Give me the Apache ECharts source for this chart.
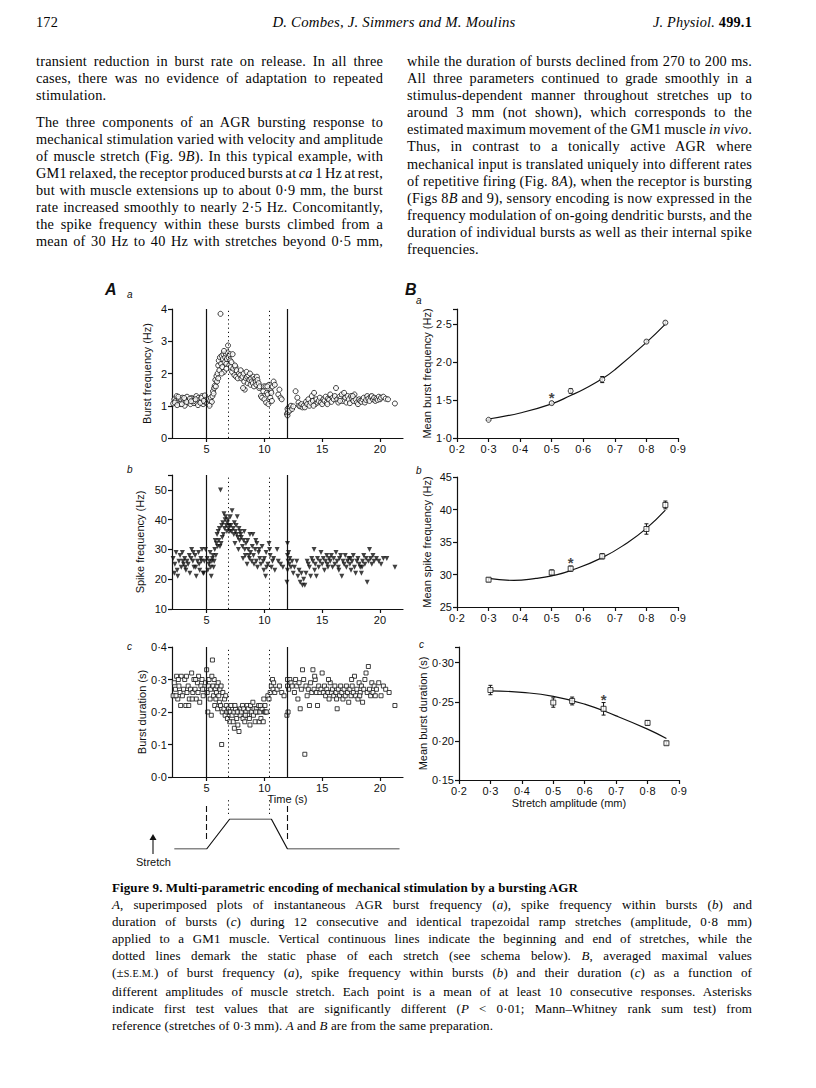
<!DOCTYPE html>
<html><head><meta charset="utf-8">
<script src="https://cdn.jsdelivr.net/npm/echarts@6/dist/echarts.min.js"></script>
<style>
html,body{margin:0;padding:0;background:#fff;}
#page{position:relative;width:816px;height:1088px;overflow:hidden;background:#fff;}
#chart{position:absolute;left:0;top:0;width:816px;height:1088px;}
.blk{position:absolute;font-family:"Liberation Serif","Times New Roman",serif;color:#050505;}
.blk div{white-space:nowrap;}
.body{font-size:14.3px;line-height:17.1px;letter-spacing:0.2px;}
.cap{font-size:13px;line-height:17.1px;letter-spacing:0.1px;}
.sc{font-size:0.78em;letter-spacing:0.03em;}
</style>
</head><body>
<div id="page">
<div id="chart"></div>

<div class="blk body" style="left:36px;top:14px;width:716px;">
  <div style="position:absolute;left:0;top:0;">172</div>
  <div style="position:absolute;left:0;top:0;width:716px;text-align:center;font-style:italic;font-size:14.8px;">D. Combes, J. Simmers and M. Moulins</div>
  <div style="position:absolute;right:0;top:0;"><i>J. Physiol.</i> <b>499.1</b></div>
</div>

<div class="blk body col" style="left:36px;top:53px;width:347px;">
  <div class="j">transient reduction in burst rate on release. In all three</div>
  <div class="j">cases, there was no evidence of adaptation to repeated</div>
  <div>stimulation.</div>
</div>
<div class="blk body col" style="left:36px;top:113.5px;width:347px;">
  <div class="j">The three components of an AGR bursting response to</div>
  <div class="j">mechanical stimulation varied with velocity and amplitude</div>
  <div class="j">of muscle stretch (Fig. 9<i>B</i>). In this typical example, with</div>
  <div class="j">GM1 relaxed, the receptor produced bursts at <i>ca</i> 1 Hz at rest,</div>
  <div class="j">but with muscle extensions up to about 0·9 mm, the burst</div>
  <div class="j">rate increased smoothly to nearly 2·5 Hz. Concomitantly,</div>
  <div class="j">the spike frequency within these bursts climbed from a</div>
  <div class="j">mean of 30 Hz to 40 Hz with stretches beyond 0·5 mm,</div>
</div>
<div class="blk body col" style="left:407px;top:53px;width:345px;">
  <div class="j">while the duration of bursts declined from 270 to 200 ms.</div>
  <div class="j">All three parameters continued to grade smoothly in a</div>
  <div class="j">stimulus-dependent manner throughout stretches up to</div>
  <div class="j">around 3 mm (not shown), which corresponds to the</div>
  <div class="j">estimated maximum movement of the GM1 muscle <i>in vivo</i>.</div>
  <div class="j">Thus, in contrast to a tonically active AGR where</div>
  <div class="j">mechanical input is translated uniquely into different rates</div>
  <div class="j">of repetitive firing (Fig. 8<i>A</i>), when the receptor is bursting</div>
  <div class="j">(Figs 8<i>B</i> and 9), sensory encoding is now expressed in the</div>
  <div class="j">frequency modulation of on-going dendritic bursts, and the</div>
  <div class="j">duration of individual bursts as well as their internal spike</div>
  <div>frequencies.</div>
</div>

<div class="blk cap col" style="left:112px;top:879px;width:640px;">
  <div style="font-weight:bold;">Figure 9. Multi-parametric encoding of mechanical stimulation by a bursting AGR</div>
  <div class="j"><i>A</i>, superimposed plots of instantaneous AGR burst frequency (<i>a</i>), spike frequency within bursts (<i>b</i>) and</div>
  <div class="j">duration of bursts (<i>c</i>) during 12 consecutive and identical trapezoidal ramp stretches (amplitude, 0·8 mm)</div>
  <div class="j">applied to a GM1 muscle. Vertical continuous lines indicate the beginning and end of stretches, while the</div>
  <div class="j">dotted lines demark the static phase of each stretch (see schema below). <i>B</i>, averaged maximal values</div>
  <div class="j">(±<span class="sc">S.E.M.</span>) of burst frequency (<i>a</i>), spike frequency within bursts (<i>b</i>) and their duration (<i>c</i>) as a function of</div>
  <div class="j">different amplitudes of muscle stretch. Each point is a mean of at least 10 consecutive responses. Asterisks</div>
  <div class="j">indicate first test values that are significantly different (<i>P</i> &lt; 0·01; Mann–Whitney rank sum test) from</div>
  <div>reference (stretches of 0·3 mm). <i>A</i> and <i>B</i> are from the same preparation.</div>
</div>
</div>

<script>
// ---------------- DATA ----------------
// Panel A: event times (s)
const stretchOnOff = [5, 12];          // continuous lines
const staticPhase = [6.85, 10.45];     // dotted lines
// Stretch schema (time s, relative amplitude)
const schemaTime = [2.2, 5, 7, 10.6, 12, 21.7];
const schemaAmp  = [0, 0, 1, 1, 0, 0];
const timeTicks = [5, 10, 15, 20];

// A a: burst frequency (Hz) vs time (s)
const burstFreq = [
[2.1,1.07],[2.2,1.2],[2.3,1.15],[2.4,1.3],[2.5,1.1],[2.6,1.22],[2.7,1.05],[2.8,1.18],[2.9,1.25],[3.0,1.12],[3.1,1.0],[3.15,1.2],[3.3,1.28],[3.4,1.1],[3.5,1.16],[3.6,1.05],[3.7,1.24],[3.8,1.2],[3.9,1.08],[4.0,1.15],[4.1,1.3],[4.15,1.1],[4.3,1.25],[4.4,1.18],[4.5,1.12],[4.6,1.3],[4.7,1.05],[4.8,1.2],[4.9,1.1],[2.25,1.1],[2.55,1.28],[2.85,1.05],[3.25,1.12],[3.55,1.22],[3.85,1.14],[4.25,1.02],[4.55,1.24],[4.85,1.32],[2.45,1.02],[3.05,1.24],[3.65,1.14],[4.05,1.2],[4.45,1.09],[4.75,1.15],
[5.05,1.08],[5.15,1.2],[5.2,1.05],[5.3,1.15],[5.35,1.25],[5.45,1.12],[5.5,1.3],[5.25,1.0],
[5.55,1.45],[5.6,1.38],[5.65,1.55],[5.7,1.62],[5.75,1.8],[5.8,1.6],[5.85,1.92],[5.9,1.75],[5.95,2.0],[6.0,1.85],
[6.0,2.25],[6.05,2.4],[6.1,2.1],[6.15,2.5],[6.2,3.85],[6.25,2.3],[6.3,2.55],[6.35,2.2],[6.4,2.45],[6.45,2.6],[6.5,2.05],[6.55,2.35],[6.6,2.5],[6.65,2.62],[6.7,2.3],[6.75,2.45],[6.8,2.65],[6.85,2.87],[6.9,2.5],[6.95,2.25],[7.0,2.6],[6.3,2.0],[6.5,2.7],[6.7,2.15],
[7.05,2.4],[7.1,2.2],[7.15,2.35],[7.2,2.05],[7.3,2.15],[7.4,1.95],[7.5,2.2],[7.55,1.9],[7.6,2.1],[7.7,1.85],[7.8,2.0],[7.9,1.95],[7.95,2.1],[7.25,2.6],[7.45,2.25],
[8.0,1.85],[8.1,1.9],[8.2,2.0],[8.25,1.75],[8.3,1.5],[8.4,1.85],[8.5,1.9],[8.55,1.7],[8.6,1.95],[8.7,1.8],[8.8,1.65],[8.85,1.85],[8.9,1.75],[8.15,1.55],[8.45,2.05],[8.75,2.0],
[9.0,1.7],[9.05,1.9],[9.1,1.6],[9.2,1.85],[9.25,1.75],[9.3,1.65],[9.35,1.9],[9.4,1.8],[9.5,1.7],[9.55,1.55],[9.6,1.6],[9.7,1.3],[9.8,1.25],[9.9,1.45],[9.95,1.6],
[10.0,1.2],[10.1,1.6],[10.15,1.1],[10.2,1.4],[10.3,1.35],[10.35,1.05],[10.4,1.65],[10.5,1.25],[10.55,1.45],[10.6,1.4],[10.7,1.6],[10.8,1.75],[10.9,1.65],[10.25,1.6],[10.65,1.15],
[11.2,1.35],[11.3,1.5],[11.4,1.25],[11.5,1.2],
[11.95,0.75],[12.0,0.7],[12.05,0.8],[12.0,0.9],[12.1,0.95],[12.2,0.85],[12.3,1.0],[12.4,0.9],[12.5,0.98],
[12.7,1.45],[12.85,1.25],[12.95,1.1],[13.0,1.0],[13.1,0.98],[13.2,1.05],[13.3,0.95],[13.4,1.0],[13.5,0.95],[13.6,1.12],[13.7,1.05],[13.8,1.2],[13.9,1.0],[14.0,1.1],[14.1,1.3],[14.2,1.15],[14.3,1.4],[14.4,1.05],[14.5,1.2],[14.6,1.1],[14.7,1.15],[14.8,1.25],[14.9,1.1],[15.0,1.05],[15.1,1.2],[15.2,1.15],[15.3,1.28],[15.4,1.1],[15.5,1.22],[15.6,1.18],[15.7,1.35],[15.8,1.12],[15.9,1.25],[16.0,1.2],[16.1,1.3],[16.2,1.55],[16.3,1.2],[16.4,1.1],[16.5,1.28],[16.6,1.22],[16.7,1.35],[16.8,1.15],[16.9,1.4],[17.0,1.25],[17.1,1.1],[17.2,1.3],[17.3,1.2],[17.4,1.08],[17.5,1.3],[17.6,1.22],[17.7,1.15],[17.8,1.35],[17.9,1.2],[18.0,1.1],[18.1,1.05],[18.2,1.2],[18.3,1.15],[18.4,1.12],[18.5,1.2],[18.6,1.25],[18.7,1.1],[18.8,1.18],[18.9,1.3],[19.0,1.22],[19.1,1.15],[19.2,1.28],[19.3,1.3],[19.4,1.2],[19.5,1.25],[19.6,1.15],[19.7,1.22],[19.8,1.18],[19.9,1.28],[20.0,1.2],[20.1,1.25],[20.3,1.28],[20.5,1.22],[20.7,1.2],[21.3,1.07],[14.25,1.0],[15.45,1.05],[16.55,1.15],[17.65,1.3]
];

// A b: spike frequency (Hz) vs time (s)
const spikeFreq = [
[2.1,27],[2.2,22],[2.25,25],[2.35,29],[2.5,21],[2.6,26],[2.7,28],[2.8,24],[2.9,29],[3.0,25],[3.1,27],[3.2,23],[3.3,26],[3.4,25],[3.5,28],[3.55,22],[3.7,30],[3.8,26],[3.9,24],[4.0,28],[4.1,21],[4.2,26],[4.3,29],[4.4,23],[4.5,27],[4.6,30],[4.7,22],[4.8,26],[4.9,30],[2.45,23],[3.15,24],[3.85,29],[4.35,25],[4.75,22],[2.95,26],[3.65,27],[4.05,24],[4.55,26],
[5.05,27],[5.1,23],[5.2,25],[5.3,29],[5.35,24],[5.4,21],[5.45,26],[5.5,27],[5.55,28],[5.6,24],[5.7,30],[5.75,33],[5.8,28],[5.85,32],[5.9,35],[5.95,31],[5.25,26],[5.65,26],
[6.0,36],[6.05,33],[6.1,37],[6.15,31],[6.2,50],[6.3,38],[6.35,34],[6.4,39],[6.5,42],[6.55,37],[6.6,40],[6.65,41],[6.7,38],[6.75,36],[6.8,39],[6.85,40],[6.9,37],[6.95,38],[7.0,36],[6.45,35],[6.25,32],
[7.05,41],[7.1,38],[7.15,36],[7.2,43],[7.3,37],[7.35,35],[7.4,39],[7.5,36],[7.55,38],[7.6,35],[7.65,41],[7.7,34],[7.8,37],[7.85,33],[7.9,36],[7.95,35],[7.45,32],[7.75,30],
[8.0,34],[8.1,31],[8.15,27],[8.2,33],[8.3,30],[8.35,28],[8.4,32],[8.5,25],[8.55,33],[8.6,30],[8.7,27],[8.75,35],[8.8,29],[8.9,26],[8.95,31],[8.25,36],[8.65,28],
[9.0,35],[9.05,28],[9.1,25],[9.2,30],[9.3,26],[9.35,32],[9.4,24],[9.5,29],[9.6,27],[9.7,25],[9.8,31],[9.9,26],[9.95,23],[9.55,30],[9.25,33],
[10.0,27],[10.1,21],[10.15,29],[10.2,24],[10.3,25],[10.4,32],[10.5,28],[10.6,24],[10.7,26],[10.8,27],[10.9,23],[10.45,30],
[11.1,30],[11.2,26],[11.4,25],[11.6,24],
[11.95,19],[12.0,32],[12.0,28],[12.05,26],[12.0,23],[12.1,29],[12.15,25],[12.2,27],[12.3,24],[12.4,26],[12.5,22],[12.6,24],
[12.8,26],[12.9,21],[13.0,23],[13.1,19],[13.2,22],[13.3,18],[13.4,20],[13.5,18],[13.6,22],[13.7,26],[13.8,25],[13.9,24],[14.0,21],[14.1,27],[14.2,26],[14.3,30],[14.4,25],[14.5,21],[14.6,27],[14.7,24],[14.8,26],[14.9,29],[15.0,25],[15.1,27],[15.2,23],[15.3,26],[15.4,28],[15.5,24],[15.6,27],[15.7,26],[15.8,28],[15.9,24],[16.0,27],[16.1,25],[16.2,29],[16.3,26],[16.4,24],[16.5,27],[16.6,28],[16.7,21],[16.8,26],[16.9,25],[17.0,28],[17.1,24],[17.2,26],[17.3,27],[17.4,25],[17.5,23],[17.6,26],[17.7,28],[17.8,24],[17.9,22],[18.0,26],[18.1,27],[18.2,25],[18.3,24],[18.4,22],[18.5,26],[18.6,28],[18.7,25],[18.8,27],[18.9,19],[19.0,26],[19.1,30],[19.2,27],[19.3,25],[19.4,28],[19.5,26],[19.7,27],[19.9,26],[20.1,25],[20.3,27],[20.6,27],[21.3,24],[14.35,23],[15.45,25],[16.45,23],[17.45,27],[18.45,24]
];

// A c: burst duration (s) vs time (s)
const burstDur = [
[2.1,0.25],[2.2,0.29],[2.3,0.27],[2.4,0.31],[2.5,0.24],[2.6,0.28],[2.7,0.26],[2.8,0.31],[2.9,0.25],[3.0,0.27],[3.1,0.3],[3.2,0.22],[3.3,0.26],[3.4,0.28],[3.5,0.24],[3.6,0.27],[3.7,0.32],[3.8,0.26],[3.9,0.3],[4.0,0.27],[4.1,0.24],[4.2,0.29],[4.3,0.31],[4.4,0.23],[4.5,0.28],[4.6,0.3],[4.7,0.25],[4.8,0.27],[4.9,0.29],[2.35,0.25],[2.75,0.22],[3.25,0.31],[3.75,0.24],[4.25,0.26],[4.65,0.27],[2.55,0.3],[3.45,0.22],[4.05,0.3],
[5.0,0.33],[5.05,0.26],[5.1,0.2],[5.15,0.28],[5.2,0.3],[5.3,0.24],[5.35,0.27],[5.4,0.19],[5.5,0.36],[5.55,0.28],[5.6,0.25],[5.65,0.3],[5.7,0.22],[5.75,0.27],[5.8,0.24],[5.9,0.28],[5.95,0.21],[5.45,0.31],[5.85,0.26],
[6.0,0.29],[6.05,0.25],[6.1,0.23],[6.15,0.27],[6.2,0.22],[6.3,0.1],[6.35,0.2],[6.4,0.26],[6.5,0.21],[6.55,0.24],[6.6,0.19],[6.7,0.22],[6.75,0.2],[6.8,0.18],[6.9,0.21],[6.95,0.2],[6.25,0.28],[6.65,0.25],
[7.0,0.17],[7.05,0.2],[7.1,0.22],[7.2,0.19],[7.3,0.17],[7.35,0.2],[7.4,0.15],[7.5,0.21],[7.6,0.18],[7.7,0.16],[7.75,0.2],[7.8,0.14],[7.9,0.19],[7.95,0.21],[7.45,0.22],[7.65,0.2],
[8.0,0.2],[8.1,0.22],[8.15,0.18],[8.2,0.21],[8.3,0.17],[8.4,0.2],[8.5,0.22],[8.55,0.19],[8.6,0.21],[8.7,0.18],[8.8,0.22],[8.9,0.2],[8.35,0.19],[8.75,0.16],
[9.0,0.23],[9.05,0.19],[9.1,0.21],[9.2,0.17],[9.3,0.21],[9.4,0.2],[9.5,0.22],[9.55,0.17],[9.6,0.2],[9.7,0.18],[9.8,0.21],[9.9,0.17],[9.95,0.24],[9.25,0.2],[9.65,0.22],
[10.0,0.2],[10.05,0.22],[10.1,0.2],[10.2,0.2],[10.3,0.25],[10.4,0.24],[10.5,0.26],[10.6,0.28],[10.7,0.3],[10.75,0.27],[10.8,0.29],[10.9,0.26],
[11.1,0.27],[11.3,0.28],[11.5,0.26],[11.7,0.25],
[11.95,0.19],[12.0,0.3],[12.0,0.28],[12.05,0.2],[12.1,0.27],[12.2,0.3],[12.3,0.29],[12.4,0.28],
[12.6,0.26],[12.7,0.3],[12.8,0.28],[12.9,0.24],[13.0,0.29],[13.1,0.21],[13.2,0.27],[13.3,0.33],[13.4,0.3],[13.5,0.07],[13.6,0.28],[13.7,0.25],[13.8,0.27],[13.9,0.22],[14.0,0.29],[14.1,0.26],[14.2,0.33],[14.3,0.27],[14.4,0.3],[14.5,0.26],[14.6,0.22],[14.7,0.28],[14.8,0.26],[14.9,0.27],[15.0,0.32],[15.1,0.26],[15.2,0.28],[15.3,0.25],[15.4,0.27],[15.5,0.26],[15.6,0.24],[15.7,0.29],[15.8,0.26],[15.9,0.27],[16.0,0.25],[16.1,0.28],[16.2,0.26],[16.3,0.21],[16.4,0.27],[16.5,0.25],[16.6,0.28],[16.7,0.26],[16.8,0.24],[16.9,0.27],[17.0,0.25],[17.1,0.28],[17.2,0.26],[17.3,0.23],[17.4,0.27],[17.5,0.25],[17.6,0.28],[17.7,0.26],[17.8,0.31],[17.9,0.25],[18.0,0.27],[18.1,0.24],[18.2,0.29],[18.3,0.26],[18.4,0.28],[18.5,0.23],[18.6,0.27],[18.7,0.3],[18.8,0.32],[18.9,0.26],[19.0,0.34],[19.1,0.27],[19.2,0.25],[19.3,0.29],[19.4,0.26],[19.5,0.28],[19.6,0.25],[19.7,0.27],[19.9,0.29],[20.1,0.25],[20.3,0.28],[20.5,0.27],[20.8,0.26],[21.3,0.22],[14.35,0.31],[15.55,0.3],[16.25,0.24],[17.55,0.3],[18.25,0.25]
];

// Panel B: stretch amplitudes (mm)
const amplitudes = [0.3, 0.5, 0.56, 0.66, 0.8, 0.86];
const meanBurstFreq = [1.24, 1.46, 1.62, 1.77, 2.27, 2.52];
const semBurstFreq  = [0.01, 0.02, 0.03, 0.04, 0.02, 0.02];
const meanSpikeFreq = [29.2, 30.3, 30.9, 32.8, 37.0, 40.7];
const semSpikeFreq  = [0.3, 0.4, 0.4, 0.4, 0.8, 0.6];
const meanBurstDur  = [0.265, 0.249, 0.251, 0.241, 0.223, 0.197];
const semBurstDur   = [0.006, 0.006, 0.005, 0.008, 0.003, 0.002];
// fitted curves
const fitBurstFreq = [[0.3,1.25],[0.4,1.33],[0.5,1.45],[0.56,1.56],[0.6,1.64],[0.66,1.78],[0.7,1.9],[0.8,2.26],[0.86,2.5]];
const fitSpikeFreq = [[0.3,29.4],[0.38,29.1],[0.45,29.4],[0.5,29.8],[0.56,30.6],[0.66,32.6],[0.74,34.9],[0.8,37.1],[0.86,39.9]];
const fitBurstDur  = [[0.3,0.264],[0.4,0.262],[0.5,0.257],[0.6,0.247],[0.7,0.232],[0.8,0.215],[0.86,0.203]];
// significance asterisks
const starBurstFreq = [[0.5, 1.53]];
const starSpikeFreq = [[0.56, 31.9]];
const starBurstDur  = [[0.66, 0.253]];
const ampTicks = [0.2,0.3,0.4,0.5,0.6,0.7,0.8,0.9];

// ---------------- CHART ----------------
const INK = '#111';
const SANS = 'Liberation Sans, Arial, sans-serif';
const dot = d => v => v.toFixed(d).replace('.', '\u00b7');

function baseAxis(extra) {
  const a = {
    type: 'value',
    axisLine: {show: true, onZero: false, lineStyle: {color: INK, width: 1.2}},
    axisTick: {show: true, inside: false, length: 4, lineStyle: {color: INK, width: 1.2}},
    axisLabel: {color: INK, fontFamily: SANS, fontSize: 11, margin: 5},
    splitLine: {show: false},
    nameTextStyle: {color: INK, fontFamily: SANS, fontSize: 11}
  };
  for (const k in extra) {
    if (typeof extra[k] === 'object' && !Array.isArray(extra[k]) && a[k]) a[k] = Object.assign({}, a[k], extra[k]);
    else a[k] = extra[k];
  }
  return a;
}

const grids = [
  {left: 172, top: 309, width: 231, height: 129},   // 0 A a
  {left: 172, top: 475, width: 231, height: 134},   // 1 A b
  {left: 172, top: 647, width: 231, height: 130},   // 2 A c
  {left: 172, top: 819, width: 231, height: 30},    // 3 schema
  {left: 172, top: 803, width: 231, height: 36},    // 4 dashed markers
  {left: 172, top: 800, width: 231, height: 14},    // 5 dotted markers
  {left: 457, top: 309, width: 221, height: 129},   // 6 B a
  {left: 457, top: 477, width: 221, height: 130},   // 7 B b
  {left: 459, top: 647, width: 220, height: 133}    // 8 B c
];

const timeAxis = (gi, extra) => baseAxis(Object.assign({
  gridIndex: gi, min: 2, max: 22,
  axisTick: {customValues: timeTicks},
  axisLabel: {customValues: timeTicks, formatter: v => String(v)}
}, extra || {}));
const hiddenAxis = (gi, min, max) => ({type: 'value', gridIndex: gi, min: min, max: max, show: false});
const ampAxis = (gi, extra) => baseAxis(Object.assign({
  gridIndex: gi, min: 0.2, max: 0.9,
  axisTick: {customValues: ampTicks},
  axisLabel: {customValues: ampTicks, formatter: dot(1)}
}, extra || {}));

const xAxes = [
  timeAxis(0), timeAxis(1),
  timeAxis(2, {name: 'Time (s)', nameLocation: 'middle', nameGap: 14}),
  {type: 'value', gridIndex: 3, min: 2, max: 22, show: false},
  {type: 'value', gridIndex: 4, min: 2, max: 22, show: false},
  {type: 'value', gridIndex: 5, min: 2, max: 22, show: false},
  ampAxis(6), ampAxis(7),
  ampAxis(8, {name: 'Stretch amplitude (mm)', nameLocation: 'middle', nameGap: 17})
];
const yName = (n, gap) => ({name: n, nameLocation: 'middle', nameRotate: 90, nameGap: gap});
const yAxes = [
  baseAxis(Object.assign({gridIndex: 0, min: 0, max: 4,
    axisTick: {customValues: [0,1,2,3,4]}, axisLabel: {customValues: [0,1,2,3,4], formatter: v => String(v)}},
    yName('Burst frequency (Hz)', 20))),
  baseAxis(Object.assign({gridIndex: 1, min: 10, max: 55,
    axisTick: {customValues: [10,20,30,40,50,55]}, axisLabel: {customValues: [10,20,30,40,50], formatter: v => String(v)}},
    yName('Spike frequency (Hz)', 27))),
  baseAxis(Object.assign({gridIndex: 2, min: 0, max: 0.4,
    axisTick: {customValues: [0,0.1,0.2,0.3,0.4]}, axisLabel: {customValues: [0,0.1,0.2,0.3,0.4], formatter: dot(1)}},
    yName('Burst duration (s)', 25))),
  hiddenAxis(3, 0, 1),
  hiddenAxis(4, 0, 1),
  hiddenAxis(5, 0, 1),
  baseAxis(Object.assign({gridIndex: 6, min: 1.0, max: 2.7,
    axisTick: {customValues: [1.0,1.5,2.0,2.5,2.7]}, axisLabel: {customValues: [1.0,1.5,2.0,2.5], formatter: dot(1)}},
    yName('Mean burst frequency (Hz)', 25))),
  baseAxis(Object.assign({gridIndex: 7, min: 25, max: 45,
    axisTick: {customValues: [25,30,35,40,45]}, axisLabel: {customValues: [25,30,35,40,45], formatter: v => String(v)}},
    yName('Mean spike frequency (Hz)', 25))),
  baseAxis(Object.assign({gridIndex: 8, min: 0.15, max: 0.32,
    axisTick: {customValues: [0.15,0.2,0.25,0.3,0.32]}, axisLabel: {customValues: [0.15,0.2,0.25,0.3], formatter: dot(2)}},
    yName('Mean burst duration (s)', 29)))
];

function eventLines(solidType) {
  return {
    silent: true, symbol: ['none', 'none'], label: {show: false}, animation: false,
    data: stretchOnOff.map(x => ({xAxis: x, lineStyle: {color: INK, width: 1.2, type: solidType}}))
      .concat(staticPhase.map(x => ({xAxis: x, lineStyle: {color: INK, width: 1, type: [1.2, 3]}})))
  };
}
function onlyLines(list, style) {
  return {silent: true, symbol: ['none','none'], label: {show: false}, animation: false,
    data: list.map(x => ({xAxis: x, lineStyle: style}))};
}

const hollow = {color: '#fff', borderColor: INK, borderWidth: 1};

function errItem(params, api) {
  const x = api.value(0), lo = api.value(1), hi = api.value(2);
  const p1 = api.coord([x, lo]), p2 = api.coord([x, hi]);
  const w = 2;
  const st = {stroke: INK, lineWidth: 1};
  return {type: 'group', children: [
    {type: 'line', shape: {x1: p1[0], y1: p1[1], x2: p2[0], y2: p2[1]}, style: st},
    {type: 'line', shape: {x1: p1[0]-w, y1: p1[1], x2: p1[0]+w, y2: p1[1]}, style: st},
    {type: 'line', shape: {x1: p2[0]-w, y1: p2[1], x2: p2[0]+w, y2: p2[1]}, style: st}
  ]};
}
function bSeries(gi, means, sems, fit, star, sym) {
  return [
    {type: 'line', xAxisIndex: gi, yAxisIndex: gi, data: fit, smooth: 0.5, showSymbol: false, symbol: 'none',
     lineStyle: {color: INK, width: 1.2}, z: 2},
    {type: 'custom', xAxisIndex: gi, yAxisIndex: gi, renderItem: errItem,
     data: amplitudes.map((a, i) => [a, means[i] - sems[i], means[i] + sems[i]]), z: 3},
    {type: 'scatter', xAxisIndex: gi, yAxisIndex: gi, symbol: sym, symbolSize: 5,
     itemStyle: hollow, data: amplitudes.map((a, i) => [a, means[i]]), z: 4},
    {type: 'scatter', xAxisIndex: gi, yAxisIndex: gi, symbolSize: 1, itemStyle: {color: 'rgba(0,0,0,0)'},
     label: {show: true, formatter: '*', position: 'inside', color: INK, fontSize: 15, fontWeight: 'bold', fontFamily: SANS},
     data: star, z: 5}
  ];
}

const series = [
  {type: 'scatter', xAxisIndex: 0, yAxisIndex: 0, data: burstFreq, symbol: 'circle', symbolSize: 5,
   itemStyle: hollow, markLine: eventLines('solid')},
  {type: 'scatter', xAxisIndex: 1, yAxisIndex: 1, data: spikeFreq, symbol: 'triangle', symbolRotate: 180, symbolSize: 5,
   itemStyle: {color: INK}, markLine: eventLines('solid')},
  {type: 'scatter', xAxisIndex: 2, yAxisIndex: 2, data: burstDur, symbol: 'rect', symbolSize: 4,
   itemStyle: hollow, markLine: eventLines('solid')},
  {type: 'line', xAxisIndex: 3, yAxisIndex: 3, data: schemaTime.map((t, i) => [t, schemaAmp[i]]),
   showSymbol: false, symbol: 'none', lineStyle: {color: INK, width: 1.2}},
  {type: 'scatter', xAxisIndex: 4, yAxisIndex: 4, data: [], markLine: onlyLines(stretchOnOff, {color: INK, width: 1.1, type: [6, 3]})},
  {type: 'scatter', xAxisIndex: 5, yAxisIndex: 5, data: [], markLine: onlyLines(staticPhase, {color: INK, width: 1, type: [1.2, 3]})}
].concat(
  bSeries(6, meanBurstFreq, semBurstFreq, fitBurstFreq, starBurstFreq, 'circle'),
  bSeries(7, meanSpikeFreq, semSpikeFreq, fitSpikeFreq, starSpikeFreq, 'rect'),
  bSeries(8, meanBurstDur, semBurstDur, fitBurstDur, starBurstDur, 'rect')
);

const lab = (txt, x, y, size, bold) => ({type: 'text', left: x, top: y,
  style: {text: txt, fill: INK, font: 'italic ' + (bold ? 'bold ' : '') + size + 'px ' + SANS}});

const graphic = [
  lab('A', 105, 281, 16, true),
  lab('a', 127, 289, 10, false),
  lab('b', 127, 464, 10, false),
  lab('c', 127, 641, 10, false),
  lab('B', 405, 281, 16, true),
  lab('a', 416, 295, 10, false),
  lab('b', 416, 465, 10, false),
  lab('c', 419, 639, 10, false),
  {type: 'line', shape: {x1: 153, y1: 854, x2: 153, y2: 838}, style: {stroke: INK, lineWidth: 1.1}},
  {type: 'polygon', shape: {points: [[149.5, 840], [153, 834], [156.5, 840]]}, style: {fill: INK}},
  {type: 'text', left: 136, top: 856, style: {text: 'Stretch', fill: INK, font: '11px ' + SANS}}
];

const chart = echarts.init(document.getElementById('chart'), null, {renderer: 'svg'});
chart.setOption({
  animation: false,
  backgroundColor: 'transparent',
  grid: grids,
  xAxis: xAxes,
  yAxis: yAxes,
  series: series,
  graphic: graphic
});

// justify each typeset line to its column width
function justify() {
  document.querySelectorAll('.col').forEach(col => {
    const W = col.clientWidth;
    col.querySelectorAll('div.j').forEach(el => {
      el.style.wordSpacing = '0px';
      const span = document.createElement('span');
      while (el.firstChild) span.appendChild(el.firstChild);
      el.appendChild(span);
      const w = span.getBoundingClientRect().width;
      const n = (span.textContent.match(/ /g) || []).length;
      if (n > 0) el.style.wordSpacing = ((W - w) / n) + 'px';
    });
  });
}
justify();
</script>
</body></html>
